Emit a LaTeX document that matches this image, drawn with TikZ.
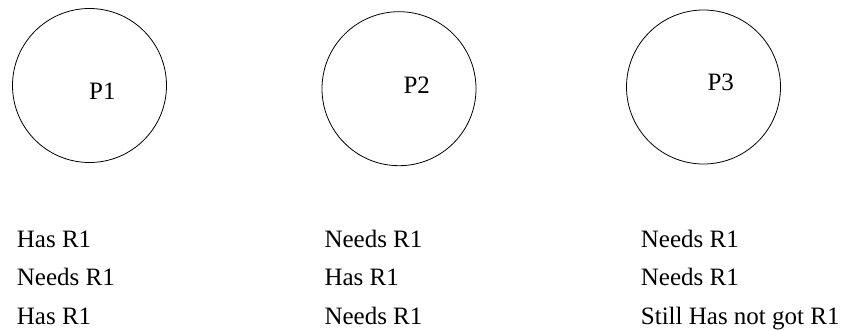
\documentclass[tikz,border=0pt]{standalone}
\usepackage{fontspec}
\setmainfont{Liberation Serif}
\begin{document}
\begin{tikzpicture}[x=1pt,y=-1pt,
  proc/.style={draw=black,line width=0.8pt,circle,minimum size=154pt,inner sep=0pt},
  txt/.style={anchor=base west,inner sep=0pt,font=\fontsize{25}{30}\selectfont}]
  \useasboundingbox (0,0) rectangle (853,330);

  % processes
  \node[proc] (p1) at (89.5,85.5) {};
  \node[proc] (p2) at (399,88.7) {};
  \node[proc] (p3) at (703.5,87) {};
  \node[txt] (p1l) at (89,99) {P1};
  \node[txt] (p2l) at (403.3,93.3) {P2};
  \node[txt] (p3l) at (707.3,90.7) {P3};

  % resource states per process
  \node[txt] (a1) at (16.7,247) {Has R1};
  \node[txt] (a2) at (16.7,285.5) {Needs R1};
  \node[txt] (a3) at (16.7,324) {Has R1};
  \node[txt] (b1) at (324.3,247) {Needs R1};
  \node[txt] (b2) at (324.3,285.5) {Has R1};
  \node[txt] (b3) at (324.3,324) {Needs R1};
  \node[txt] (c1) at (640.7,247) {Needs R1};
  \node[txt] (c2) at (640.7,285.5) {Needs R1};
  \node[txt] (c3) at (640.7,324) {Still Has not got R1};
\end{tikzpicture}
\end{document}
